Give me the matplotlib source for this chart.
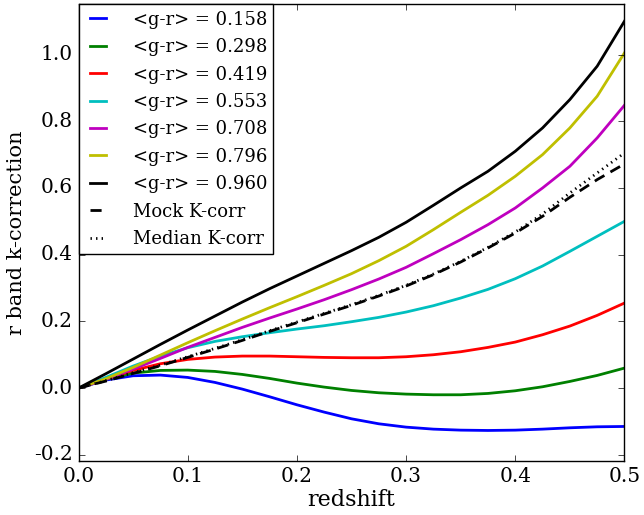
import numpy as np
import matplotlib
matplotlib.use("Agg")
import matplotlib.pyplot as plt

plt.style.use("classic")
plt.rcParams.update({
    "font.family": "serif", "font.serif": ["DejaVu Serif"],
    "axes.unicode_minus": False, "lines.scale_dashes": False,
})

# redshift grid the curves were read on
z = np.array([0.0, 0.025, 0.05, 0.075, 0.1, 0.125, 0.15, 0.175, 0.2, 0.225, 0.25,
              0.275, 0.3, 0.325, 0.35, 0.375, 0.4, 0.425, 0.45, 0.475, 0.5])

colors_gr = [0.158, 0.298, 0.419, 0.553, 0.708, 0.796, 0.960]
line_colors = ["b", "g", "r", "c", "m", "y", "k"]

k_0158 = [0.0, 0.024, 0.037, 0.039, 0.032, 0.017, -0.003, -0.026, -0.050, -0.072, -0.092,
          -0.107, -0.117, -0.123, -0.126, -0.127, -0.126, -0.123, -0.119, -0.116, -0.115]
k_0298 = [0.0, 0.026, 0.045, 0.053, 0.054, 0.050, 0.041, 0.029, 0.015, 0.003, -0.007,
          -0.014, -0.018, -0.020, -0.020, -0.016, -0.008, 0.004, 0.020, 0.038, 0.060]
k_0419 = [0.0, 0.027, 0.053, 0.073, 0.086, 0.093, 0.096, 0.096, 0.094, 0.092, 0.091,
          0.091, 0.094, 0.100, 0.109, 0.122, 0.138, 0.160, 0.186, 0.218, 0.255]
k_0553 = [0.0, 0.032, 0.066, 0.096, 0.121, 0.140, 0.154, 0.166, 0.177, 0.187, 0.199,
          0.212, 0.228, 0.247, 0.270, 0.296, 0.328, 0.366, 0.410, 0.455, 0.500]
k_0708 = [0.0, 0.026, 0.057, 0.089, 0.122, 0.152, 0.182, 0.210, 0.237, 0.265, 0.295,
          0.327, 0.362, 0.403, 0.445, 0.490, 0.540, 0.600, 0.665, 0.750, 0.848]
k_0796 = [0.0, 0.028, 0.062, 0.099, 0.136, 0.172, 0.207, 0.241, 0.274, 0.308, 0.343,
          0.382, 0.425, 0.475, 0.527, 0.578, 0.635, 0.700, 0.780, 0.875, 1.005]
k_0960 = [0.0, 0.043, 0.087, 0.131, 0.174, 0.216, 0.258, 0.298, 0.336, 0.374, 0.412,
          0.452, 0.497, 0.548, 0.600, 0.650, 0.710, 0.780, 0.865, 0.965, 1.100]
k_mock = [0.0, 0.021, 0.044, 0.067, 0.092, 0.117, 0.143, 0.170, 0.196, 0.222, 0.248,
          0.276, 0.306, 0.340, 0.378, 0.420, 0.465, 0.515, 0.572, 0.625, 0.672]
k_median = [0.0, 0.022, 0.046, 0.069, 0.094, 0.119, 0.145, 0.172, 0.198, 0.224, 0.250,
            0.278, 0.308, 0.342, 0.380, 0.422, 0.468, 0.522, 0.585, 0.645, 0.705]

kcorr = [k_0158, k_0298, k_0419, k_0553, k_0708, k_0796, k_0960]

fig = plt.figure(figsize=(6.44, 5.15), dpi=100, facecolor="white")
ax = fig.add_axes([0.1219, 0.1039, 0.8478, 0.8874])

for gr, kc, c in zip(colors_gr, kcorr, line_colors):
    ax.plot(z, kc, color=c, lw=2, label="<g-r> = %.3f" % gr)
ax.plot(z, k_mock, color="k", ls="--", dashes=(8, 5), lw=2, label="Mock K-corr")
ax.plot(z, k_median, color="k", ls=":", dashes=(1, 3), lw=2, label="Median K-corr")

ax.set_xlim(0, 0.5)
ax.set_ylim(-0.22, 1.15)
ax.set_xticks([0.0, 0.1, 0.2, 0.3, 0.4, 0.5])
ax.set_yticks([-0.2, 0.0, 0.2, 0.4, 0.6, 0.8, 1.0])
ax.tick_params(labelsize=14.5)
ax.set_xlabel("redshift", fontsize=16, labelpad=2)
ax.set_ylabel("r band k-correction", fontsize=15, labelpad=6)

leg = ax.legend(loc="upper left", fontsize=13, borderaxespad=0, handlelength=1.5,
                handletextpad=1.15, borderpad=0.35, labelspacing=0.52,
                frameon=True, fancybox=False)
leg.get_frame().set_edgecolor("black")

fig.savefig("out.png", dpi=100, facecolor="white")
